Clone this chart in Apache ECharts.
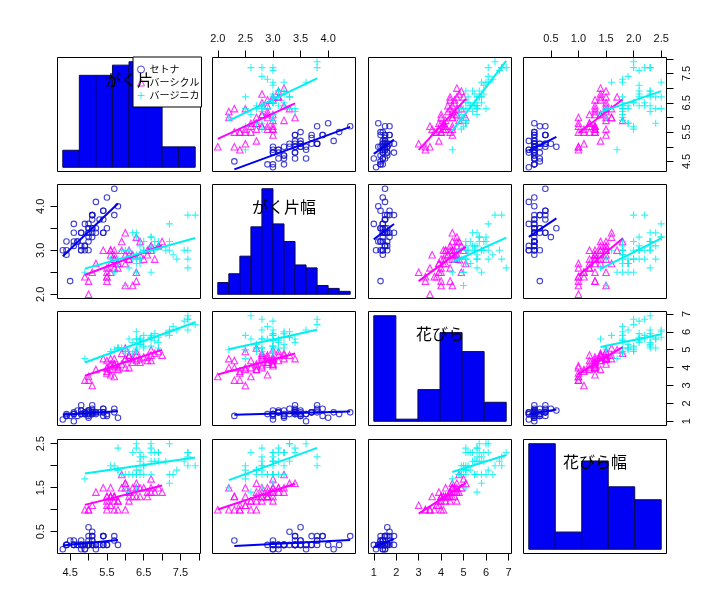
<!DOCTYPE html>
<html>
<head>
<meta charset="utf-8">
<script src="https://cdn.jsdelivr.net/npm/echarts@6/dist/echarts.min.js"></script>
<style>
html, body { margin: 0; background: #fff; }
#chart { width: 724px; height: 611px; }
</style>
</head>
<body>
<div id="chart"></div>
<script>
// variable labels on the diagonal, species names in the legend
const varNames = ['がく片', 'がく片幅', '花びら', '花びら幅'];
const speciesNames = ['セトナ', 'バーシクル', 'バージニカ'];

// iris measurements, one array per species and variable
const setosaSepalLength = [5.1,4.9,4.7,4.6,5.0,5.4,4.6,5.0,4.4,4.9,5.4,4.8,4.8,4.3,5.8,5.7,5.4,5.1,5.7,5.1,5.4,5.1,4.6,5.1,4.8,5.0,5.0,5.2,5.2,4.7,4.8,5.4,5.2,5.5,4.9,5.0,5.5,4.9,4.4,5.1,5.0,4.5,4.4,5.0,5.1,4.8,5.1,4.6,5.3,5.0];
const setosaSepalWidth = [3.5,3.0,3.2,3.1,3.6,3.9,3.4,3.4,2.9,3.1,3.7,3.4,3.0,3.0,4.0,4.4,3.9,3.5,3.8,3.8,3.4,3.7,3.6,3.3,3.4,3.0,3.4,3.5,3.4,3.2,3.1,3.4,4.1,4.2,3.1,3.2,3.5,3.6,3.0,3.4,3.5,2.3,3.2,3.5,3.8,3.0,3.8,3.2,3.7,3.3];
const setosaPetalLength = [1.4,1.4,1.3,1.5,1.4,1.7,1.4,1.5,1.4,1.5,1.5,1.6,1.4,1.1,1.2,1.5,1.3,1.4,1.7,1.5,1.7,1.5,1.0,1.7,1.9,1.6,1.6,1.5,1.4,1.6,1.6,1.5,1.5,1.4,1.5,1.2,1.3,1.4,1.3,1.5,1.3,1.3,1.3,1.6,1.9,1.4,1.6,1.4,1.5,1.4];
const setosaPetalWidth = [0.2,0.2,0.2,0.2,0.2,0.4,0.3,0.2,0.2,0.1,0.2,0.2,0.1,0.1,0.2,0.4,0.4,0.3,0.3,0.3,0.2,0.4,0.2,0.5,0.2,0.2,0.4,0.2,0.2,0.2,0.2,0.4,0.1,0.2,0.2,0.2,0.2,0.1,0.2,0.2,0.3,0.3,0.2,0.6,0.4,0.3,0.2,0.2,0.2,0.2];

const versicolorSepalLength = [7.0,6.4,6.9,5.5,6.5,5.7,6.3,4.9,6.6,5.2,5.0,5.9,6.0,6.1,5.6,6.7,5.6,5.8,6.2,5.6,5.9,6.1,6.3,6.1,6.4,6.6,6.8,6.7,6.0,5.7,5.5,5.5,5.8,6.0,5.4,6.0,6.7,6.3,5.6,5.5,5.5,6.1,5.8,5.0,5.6,5.7,5.7,6.2,5.1,5.7];
const versicolorSepalWidth = [3.2,3.2,3.1,2.3,2.8,2.8,3.3,2.4,2.9,2.7,2.0,3.0,2.2,2.9,2.9,3.1,3.0,2.7,2.2,2.5,3.2,2.8,2.5,2.8,2.9,3.0,2.8,3.0,2.9,2.6,2.4,2.4,2.7,2.7,3.0,3.4,3.1,2.3,3.0,2.5,2.6,3.0,2.6,2.3,2.7,3.0,2.9,2.9,2.5,2.8];
const versicolorPetalLength = [4.7,4.5,4.9,4.0,4.6,4.5,4.7,3.3,4.6,3.9,3.5,4.2,4.0,4.7,3.6,4.4,4.5,4.1,4.5,3.9,4.8,4.0,4.9,4.7,4.3,4.4,4.8,5.0,4.5,3.5,3.8,3.7,3.9,5.1,4.5,4.5,4.7,4.4,4.1,4.0,4.4,4.6,4.0,3.3,4.2,4.2,4.2,4.3,3.0,4.1];
const versicolorPetalWidth = [1.4,1.5,1.5,1.3,1.5,1.3,1.6,1.0,1.3,1.4,1.0,1.5,1.0,1.4,1.3,1.4,1.5,1.0,1.5,1.1,1.8,1.3,1.5,1.2,1.3,1.4,1.4,1.7,1.5,1.0,1.1,1.0,1.2,1.6,1.5,1.6,1.5,1.3,1.3,1.3,1.2,1.4,1.2,1.0,1.3,1.2,1.3,1.3,1.1,1.3];

const virginicaSepalLength = [6.3,5.8,7.1,6.3,6.5,7.6,4.9,7.3,6.7,7.2,6.5,6.4,6.8,5.7,5.8,6.4,6.5,7.7,7.7,6.0,6.9,5.6,7.7,6.3,6.7,7.2,6.2,6.1,6.4,7.2,7.4,7.9,6.4,6.3,6.1,7.7,6.3,6.4,6.0,6.9,6.7,6.9,5.8,6.8,6.7,6.7,6.3,6.5,6.2,5.9];
const virginicaSepalWidth = [3.3,2.7,3.0,2.9,3.0,3.0,2.5,2.9,2.5,3.6,3.2,2.7,3.0,2.5,2.8,3.2,3.0,3.8,2.6,2.2,3.2,2.8,2.8,2.7,3.3,3.2,2.8,3.0,2.8,3.0,2.8,3.8,2.8,2.8,2.6,3.0,3.4,3.1,3.0,3.1,3.1,3.1,2.7,3.2,3.3,3.0,2.5,3.0,3.4,3.0];
const virginicaPetalLength = [6.0,5.1,5.9,5.6,5.8,6.6,4.5,6.3,5.8,6.1,5.1,5.3,5.5,5.0,5.1,5.3,5.5,6.7,6.9,5.0,5.7,4.9,6.7,4.9,5.7,6.0,4.8,4.9,5.6,5.8,6.1,6.4,5.6,5.1,5.6,6.1,5.6,5.5,4.8,5.4,5.6,5.1,5.1,5.9,5.7,5.2,5.0,5.2,5.4,5.1];
const virginicaPetalWidth = [2.5,1.9,2.1,1.8,2.2,2.1,1.7,1.8,1.8,2.5,2.0,1.9,2.1,2.0,2.4,2.3,1.8,2.2,2.3,1.5,2.3,2.0,2.0,1.8,2.1,1.8,1.8,1.8,2.1,1.6,1.9,2.0,2.2,1.5,1.4,2.3,2.4,1.8,1.8,2.1,2.4,2.3,1.9,2.3,2.5,2.3,1.9,2.0,2.3,1.8];

// histogram breaks and counts on the diagonal
const sepalLengthBreaks = [4.0,4.5,5.0,5.5,6.0,6.5,7.0,7.5,8.0];
const sepalLengthCounts = [5,27,27,30,31,18,6,6];
const sepalWidthBreaks = [2.0,2.2,2.4,2.6,2.8,3.0,3.2,3.4,3.6,3.8,4.0,4.2,4.4];
const sepalWidthCounts = [4,7,13,23,36,24,18,10,9,3,2,1];
const petalLengthBreaks = [1,2,3,4,5,6,7];
const petalLengthCounts = [50,1,15,42,33,9];
const petalWidthBreaks = [0.0,0.5,1.0,1.5,2.0,2.5];
const petalWidthCounts = [49,8,41,29,23];

// axis ticks and labels
const sepalLengthTicks = [4.5,5.0,5.5,6.0,6.5,7.0,7.5,8.0];
const sepalLengthLabels = [4.5,5.5,6.5,7.5];
const sepalWidthTicks = [2.0,2.5,3.0,3.5,4.0];
const sepalWidthTopLabels = [2.0,2.5,3.0,3.5,4.0];
const sepalWidthSideLabels = [2.0,3.0,4.0];
const petalLengthTicks = [1,2,3,4,5,6,7];
const petalLengthLabels = [1,2,3,4,5,6,7];
const petalWidthTicks = [0.5,1.0,1.5,2.0,2.5];
const petalWidthTopLabels = [0.5,1.0,1.5,2.0,2.5];
const petalWidthSideLabels = [0.5,1.5,2.5];

const speciesData = [
  [setosaSepalLength, setosaSepalWidth, setosaPetalLength, setosaPetalWidth],
  [versicolorSepalLength, versicolorSepalWidth, versicolorPetalLength, versicolorPetalWidth],
  [virginicaSepalLength, virginicaSepalWidth, virginicaPetalLength, virginicaPetalWidth]
];
const histBreaks = [sepalLengthBreaks, sepalWidthBreaks, petalLengthBreaks, petalWidthBreaks];
const histCounts = [sepalLengthCounts, sepalWidthCounts, petalLengthCounts, petalWidthCounts];
const axisTicks = [sepalLengthTicks, sepalWidthTicks, petalLengthTicks, petalWidthTicks];
const outerLabels = [sepalLengthLabels, sepalWidthTopLabels, petalLengthLabels, petalWidthTopLabels];
const sideLabels = [sepalLengthLabels, sepalWidthSideLabels, petalLengthLabels, petalWidthSideLabels];
const decimals = [1, 1, 0, 1];

// styles
const pointColors = ['#1414c8', '#ff00ff', '#00f0f0'];
const lineColors = ['#0000f0', '#ff00ff', '#00f0f0'];
const symbols = ['circle', 'triangle', 'path://M0,5L10,5M5,0L5,10'];
const symbolSizes = [5.5, 6.5, 7];
const histFill = '#0000f5';
const histBorder = '#0a0a50';
const numFont = 'Liberation Sans';
const jpFont = 'Noto Sans CJK JP';

// panel layout (pixels)
const colLeft = [57.5, 212.5, 368.5, 523.5];
const rowTop = [57.5, 184.5, 311.5, 439.5];
const cellW = 143;
const cellH = 114;

// R-like range padding of 4%
function pad(lo, hi) {
  const d = (hi - lo) * 0.04;
  return [lo - d, hi + d];
}

const varRange = [0, 1, 2, 3].map(function (v) {
  let all = [];
  speciesData.forEach(function (s) { all = all.concat(s[v]); });
  return pad(Math.min.apply(null, all), Math.max.apply(null, all));
});

// least squares fit over a species' x range
function fitLine(xs, ys) {
  const n = xs.length;
  const mx = xs.reduce((a, b) => a + b, 0) / n;
  const my = ys.reduce((a, b) => a + b, 0) / n;
  let sxy = 0, sxx = 0;
  for (let k = 0; k < n; k++) {
    sxy += (xs[k] - mx) * (ys[k] - my);
    sxx += (xs[k] - mx) * (xs[k] - mx);
  }
  const b = sxy / sxx;
  const a = my - b * mx;
  const x0 = Math.min.apply(null, xs), x1 = Math.max.apply(null, xs);
  return [[x0, a + b * x0], [x1, a + b * x1]];
}

const grids = [], xAxes = [], yAxes = [], series = [], texts = [];

for (let r = 0; r < 4; r++) {
  for (let c = 0; c < 4; c++) {
    const gi = r * 4 + c;
    grids.push({
      left: colLeft[c], top: rowTop[r], width: cellW, height: cellH,
      show: true, borderColor: '#000', borderWidth: 1, backgroundColor: 'transparent'
    });

    let xr, yr;
    if (r === c) {
      const br = histBreaks[c];
      xr = pad(br[0], br[br.length - 1]);
      yr = pad(0, Math.max.apply(null, histCounts[c]));
    } else {
      xr = varRange[c];
      yr = varRange[r];
    }

    const showTop = r === 0 && c % 2 === 1;
    const showBottom = r === 3 && c % 2 === 0;
    const showLeft = c === 0 && r % 2 === 1;
    const showRight = c === 3 && r % 2 === 0;

    xAxes.push({
      gridIndex: gi, type: 'value', min: xr[0], max: xr[1],
      show: showTop || showBottom,
      position: showTop ? 'top' : 'bottom',
      axisLine: { show: false },
      splitLine: { show: false },
      axisTick: { show: true, length: 7, customValues: axisTicks[c], lineStyle: { color: '#000' } },
      axisLabel: {
        customValues: outerLabels[c],
        formatter: (v) => Number(v).toFixed(decimals[c]),
        fontFamily: numFont, fontSize: 11, color: '#111', margin: showTop ? 13 : 14
      }
    });
    yAxes.push({
      gridIndex: gi, type: 'value', min: yr[0], max: yr[1],
      show: showLeft || showRight,
      position: showRight ? 'right' : 'left',
      axisLine: { show: false },
      splitLine: { show: false },
      axisTick: { show: true, length: 7, customValues: axisTicks[r], lineStyle: { color: '#000' } },
      axisLabel: {
        customValues: sideLabels[r],
        rotate: 90,
        formatter: (v) => Number(v).toFixed(decimals[r]),
        fontFamily: numFont, fontSize: 11, color: '#111', margin: showRight ? 15 : 11
      }
    });

    if (r === c) {
      const br = histBreaks[c];
      series.push({
        type: 'custom',
        xAxisIndex: gi, yAxisIndex: gi,
        silent: true,
        data: histCounts[c].map((n, k) => [br[k], br[k + 1], n]),
        encode: { x: [0, 1], y: 2 },
        renderItem: function (params, api) {
          const p0 = api.coord([api.value(0), 0]);
          const p1 = api.coord([api.value(1), api.value(2)]);
          return {
            type: 'rect',
            shape: { x: p0[0], y: p1[1], width: p1[0] - p0[0], height: p0[1] - p1[1] },
            style: { fill: histFill, stroke: histBorder, lineWidth: 1 }
          };
        }
      });
      texts.push({
        type: 'text', z: 10,
        x: colLeft[c] + cellW / 2, y: rowTop[r] + 22,
        style: {
          text: varNames[c], fill: '#000',
          font: '16px "' + jpFont + '"', align: 'center', verticalAlign: 'middle'
        }
      });
    } else {
      speciesData.forEach(function (s, si) {
        series.push({
          name: speciesNames[si],
          type: 'scatter',
          xAxisIndex: gi, yAxisIndex: gi,
          silent: true,
          symbol: symbols[si],
          symbolSize: symbolSizes[si],
          itemStyle: { color: 'transparent', borderColor: pointColors[si], borderWidth: 1.1 },
          data: s[c].map((x, k) => [x, s[r][k]])
        });
      });
      speciesData.forEach(function (s, si) {
        series.push({
          type: 'line',
          xAxisIndex: gi, yAxisIndex: gi,
          silent: true,
          showSymbol: false,
          lineStyle: { color: lineColors[si], width: 2 },
          data: fitLine(s[c], s[r])
        });
      });
    }
  }
}

const option = {
  animation: false,
  grid: grids,
  xAxis: xAxes,
  yAxis: yAxes,
  legend: {
    orient: 'vertical',
    left: 133, top: 57,
    padding: [7, 2, 6, 4],
    itemGap: 2,
    itemWidth: 7, itemHeight: 7,
    selectedMode: false,
    backgroundColor: '#fff', borderColor: '#000', borderWidth: 1,
    textStyle: { fontFamily: jpFont, fontSize: 10, lineHeight: 11, color: '#000' },
    data: speciesNames.map((n, si) => ({
      name: n,
      icon: symbols[si],
      itemStyle: { color: 'transparent', borderColor: pointColors[si], borderWidth: 1 }
    }))
  },
  graphic: texts,
  series: series
};

echarts.init(document.getElementById('chart')).setOption(option);
</script>
</body>
</html>
